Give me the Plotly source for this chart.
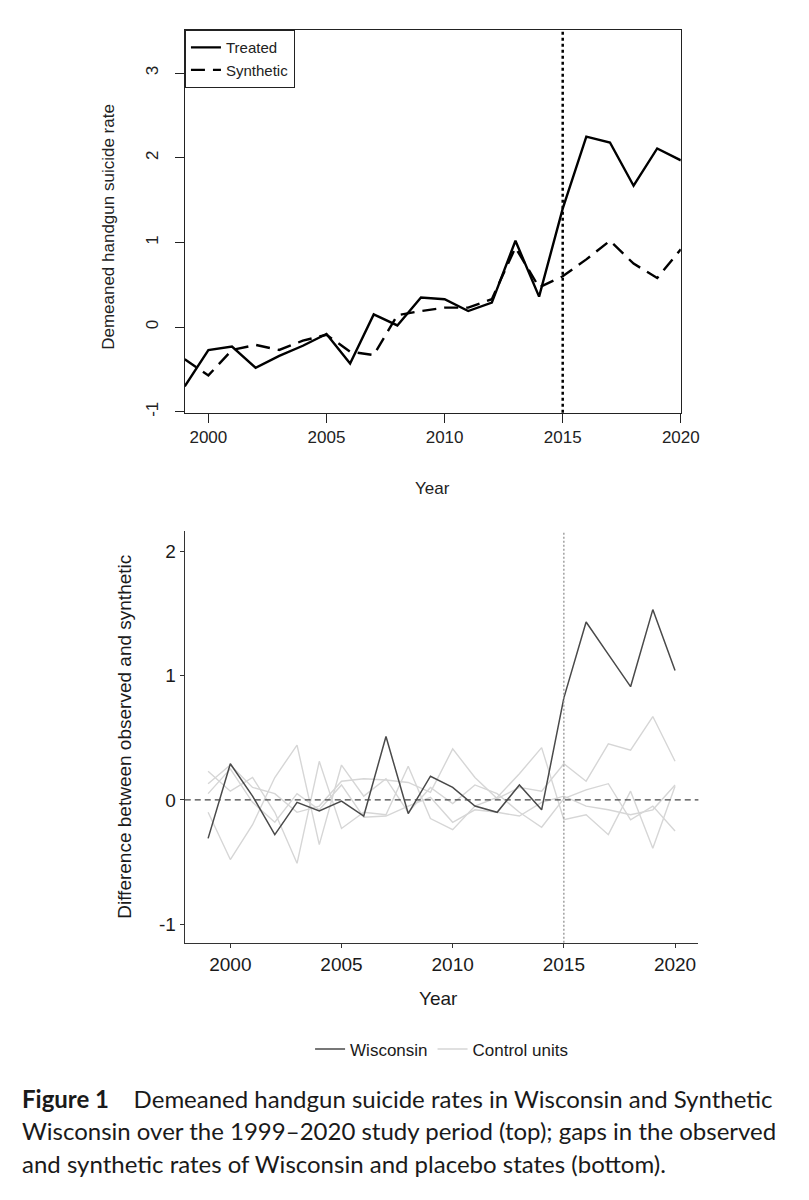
import plotly.graph_objects as go

W, H = 809, 1200

years = list(range(1999, 2021))

# top panel: demeaned rates
treated = [-0.70, -0.27, -0.23, -0.48, -0.34, -0.22, -0.08, -0.43, 0.15, 0.02, 0.35, 0.33,
           0.19, 0.29, 1.02, 0.36, 1.40, 2.25, 2.18, 1.67, 2.11, 1.97]
synthetic = [-0.38, -0.57, -0.27, -0.21, -0.27, -0.16, -0.09, -0.29, -0.33, 0.14, 0.19, 0.23,
             0.23, 0.33, 0.94, 0.47, 0.60, 0.80, 1.02, 0.75, 0.58, 0.92]

# bottom panel: gaps (observed - synthetic)
wisconsin_gap = [-0.31, 0.29, 0.03, -0.28, -0.02, -0.09, -0.01, -0.13, 0.51, -0.11, 0.19, 0.10,
                 -0.05, -0.10, 0.12, -0.08, 0.82, 1.43, 1.17, 0.91, 1.53, 1.04]
control_a = [0.13, 0.28, 0.10, 0.05, -0.10, -0.05, 0.15, 0.17, 0.16, 0.14, 0.06, 0.41,
             0.18, 0.01, 0.10, 0.07, 0.29, 0.15, 0.45, 0.40, 0.67, 0.31]
control_b = [0.23, 0.07, 0.18, -0.10, -0.51, 0.31, -0.23, -0.10, -0.12, 0.27, -0.15, -0.24,
             -0.05, 0.02, 0.21, 0.42, -0.16, -0.12, -0.28, 0.07, -0.39, 0.11]
control_c = [-0.10, -0.48, -0.20, 0.18, 0.44, -0.36, 0.28, 0.03, 0.17, -0.10, 0.10, -0.03,
             0.12, 0.05, -0.10, -0.22, 0.01, 0.08, 0.13, -0.16, -0.05, -0.25]
control_d = [0.05, 0.25, -0.02, -0.18, 0.05, -0.08, 0.12, -0.14, -0.13, -0.05, 0.02, -0.18,
             -0.08, -0.10, -0.13, -0.02, 0.03, -0.05, -0.08, -0.12, -0.08, 0.12]
controls = [control_a, control_b, control_c, control_d]

xticks = [2000, 2005, 2010, 2015, 2020]
top_yticks = [-1, 0, 1, 2, 3]
bottom_yticks = [-1, 0, 1, 2]
treat_year = 2015

caption_lines = [
    "<b>Figure 1</b>    Demeaned handgun suicide rates in Wisconsin and Synthetic",
    "Wisconsin over the 1999\u20132020 study period (top); gaps in the observed",
    "and synthetic rates of Wisconsin and placebo states (bottom).",
]


def px_x(p):
    return p / W


def px_y(p):
    return 1 - p / H


fig = go.Figure()

# --- top panel
fig.add_trace(go.Scatter(x=years, y=treated, mode="lines", name="Treated",
                         line=dict(color="black", width=2.4),
                         xaxis="x", yaxis="y", legend="legend"))
fig.add_trace(go.Scatter(x=years, y=synthetic, mode="lines", name="Synthetic",
                         line=dict(color="black", width=2.4, dash="14px,8px"),
                         xaxis="x", yaxis="y", legend="legend"))

# --- bottom panel
for i, ctrl in enumerate(controls):
    fig.add_trace(go.Scatter(x=years, y=ctrl, mode="lines", name="Control units",
                             legendgroup="ctrl", showlegend=(i == 0), legendrank=2,
                             line=dict(color="#d6d6d6", width=1.4),
                             xaxis="x2", yaxis="y2", legend="legend2"))
fig.add_trace(go.Scatter(x=years, y=wisconsin_gap, mode="lines", name="Wisconsin",
                         legendrank=1, line=dict(color="#4a4a4a", width=1.5),
                         xaxis="x2", yaxis="y2", legend="legend2"))

# reference lines
fig.add_shape(type="line", xref="x", yref="y domain", x0=treat_year, x1=treat_year, y0=0, y1=1,
              line=dict(color="black", width=2.5, dash="dot"))
fig.add_shape(type="line", xref="x2", yref="y2 domain", x0=treat_year, x1=treat_year, y0=0, y1=1,
              line=dict(color="#8a8a8a", width=1.2, dash="2px,2px"))
fig.add_shape(type="line", xref="x2 domain", yref="y2", x0=0, x1=1, y0=0, y1=0,
              line=dict(color="#444444", width=1.2, dash="6px,4px"))

tick_font = dict(family="Liberation Sans, Arial", size=17, color="#222222")
btick_font = dict(family="Liberation Sans, Arial", size=19, color="#1a1a1a")

fig.update_layout(
    width=W, height=H,
    margin=dict(l=0, r=0, t=0, b=0),
    paper_bgcolor="white", plot_bgcolor="white",
    xaxis=dict(domain=[px_x(181), px_x(689)], range=[1999, 2020],
               tickvals=xticks, ticks="outside", ticklen=9, tickwidth=1, tickcolor="#222",
               showline=True, linecolor="#222", linewidth=1.2, mirror=True,
               showgrid=False, zeroline=False, tickfont=tick_font, anchor="y"),
    yaxis=dict(domain=[px_y(406), px_y(22)], range=[-1.01, 3.51],
               tickvals=top_yticks, ticktext=[str(v) for v in top_yticks],
               ticks="outside", ticklen=9, tickwidth=1, tickcolor="#222",
               tickangle=-90, ticklabelstandoff=10,
               showline=True, linecolor="#222", linewidth=1.2, mirror=True,
               showgrid=False, zeroline=False, tickfont=tick_font, anchor="x"),
    xaxis2=dict(domain=[px_x(181), px_x(707)], range=[1997.95, 2021.05],
                tickvals=xticks, ticks="outside", ticklen=4, tickcolor="#333",
                showline=True, linecolor="#333", linewidth=1.2,
                showgrid=False, zeroline=False, tickfont=btick_font, anchor="y2"),
    yaxis2=dict(domain=[px_y(938), px_y(525)], range=[-1.15, 2.16],
                tickvals=bottom_yticks, ticktext=[str(v) for v in bottom_yticks],
                ticks="outside", ticklen=4, tickcolor="#333",
                showline=True, linecolor="#333", linewidth=1.2,
                showgrid=False, zeroline=False, tickfont=btick_font, anchor="x2"),
    legend=dict(x=px_x(181), y=px_y(22), xanchor="left", yanchor="top",
                bgcolor="white", bordercolor="#222", borderwidth=1.2,
                font=dict(family="Liberation Sans, Arial", size=15, color="#222"),
                itemwidth=30, tracegroupgap=0),
    legend2=dict(orientation="h", x=px_x(444), y=px_y(1045), xanchor="center", yanchor="middle",
                 bgcolor="rgba(0,0,0,0)",
                 font=dict(family="Liberation Sans, Arial", size=17, color="#1a1a1a"),
                 itemwidth=30, traceorder="normal"),
)

ann_font = dict(family="Liberation Sans, Arial", size=17, color="#222222")
bann_font = dict(family="Liberation Sans, Arial", size=19, color="#1a1a1a")
annotations = [
    dict(text="Demeaned handgun suicide rate", x=px_x(103), y=px_y(220), textangle=-90,
         font=ann_font),
    dict(text="Year", x=px_x(435), y=px_y(482), font=ann_font),
    dict(text="Difference between observed and synthetic", x=px_x(119), y=px_y(731),
         textangle=-90, font=bann_font),
    dict(text="Year", x=px_x(441), y=px_y(994), font=bann_font),
]
for k, line in enumerate(caption_lines):
    annotations.append(dict(text=line, x=px_x(12), y=px_y(1094 + 32.5 * k), xanchor="left",
                            font=dict(family="Lato, Open Sans", size=24, color="#1a1a1a")))
for a in annotations:
    a.setdefault("xanchor", "center")
    a.update(xref="paper", yref="paper", yanchor="middle", showarrow=False)
fig.update_layout(annotations=annotations)

fig.write_html("out.html")
